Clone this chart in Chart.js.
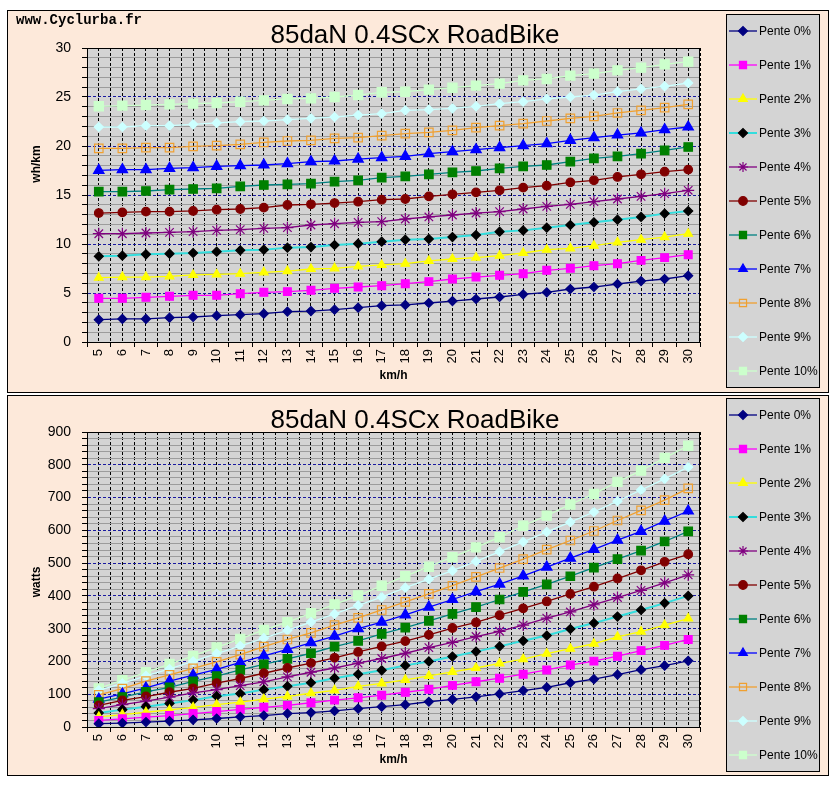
<!DOCTYPE html>
<html><head><meta charset="utf-8">
<script src="https://cdn.jsdelivr.net/npm/chart.js@4/dist/chart.umd.min.js"></script>
<style>
html,body{margin:0;padding:0;background:#fff;width:836px;height:786px;overflow:hidden;}
.panel{position:absolute;left:7px;width:820px;background:#fde9da;border:1px solid #000;}
#p1{top:10px;height:381px;}
#p2{top:395px;height:379px;}
canvas{position:absolute;left:0;top:0;}
</style></head><body>
<div class="panel" id="p1"><canvas id="c1" width="820" height="381" style="width:820px;height:381px"></canvas></div>
<div class="panel" id="p2"><canvas id="c2" width="820" height="379" style="width:820px;height:379px"></canvas></div>
<script>
const speeds = [5,6,7,8,9,10,11,12,13,14,15,16,17,18,19,20,21,22,23,24,25,26,27,28,29,30];
const seriesNames = ['Pente 0%','Pente 1%','Pente 2%','Pente 3%','Pente 4%','Pente 5%','Pente 6%','Pente 7%','Pente 8%','Pente 9%','Pente 10%'];
const chartTitle = '85daN 0.4SCx RoadBike';
const siteName = 'www.Cyclurba.fr';

// wh/km
const whkm_p0 = [2.28,2.35,2.35,2.48,2.55,2.69,2.79,2.89,3.10,3.16,3.30,3.50,3.71,3.78,3.98,4.18,4.39,4.59,4.86,5.07,5.41,5.61,5.92,6.22,6.43,6.77];
const whkm_p1 = [4.46,4.46,4.56,4.66,4.76,4.76,4.93,5.07,5.14,5.27,5.48,5.61,5.75,5.95,6.16,6.43,6.63,6.80,6.97,7.31,7.52,7.79,7.99,8.33,8.61,8.91];
const whkm_p2 = [6.56,6.63,6.63,6.70,6.84,6.90,6.97,7.11,7.24,7.45,7.52,7.72,7.86,7.99,8.27,8.47,8.61,8.81,9.08,9.42,9.56,9.83,10.17,10.44,10.71,11.05];
const whkm_p3 = [8.74,8.81,8.95,9.01,9.08,9.22,9.35,9.42,9.63,9.69,9.90,10.03,10.24,10.44,10.51,10.71,10.92,11.26,11.39,11.67,11.94,12.21,12.48,12.76,13.10,13.37];
const whkm_p4 = [11.05,11.05,11.12,11.19,11.26,11.39,11.46,11.60,11.67,11.94,12.07,12.21,12.28,12.55,12.76,12.96,13.16,13.30,13.57,13.84,14.05,14.32,14.59,14.86,15.14,15.48];
const whkm_p5 = [13.16,13.23,13.30,13.30,13.37,13.50,13.57,13.71,13.98,14.05,14.18,14.32,14.52,14.59,14.86,15.07,15.27,15.48,15.75,15.95,16.29,16.50,16.84,17.11,17.38,17.59];
const whkm_p6 = [15.34,15.34,15.41,15.54,15.61,15.68,15.88,16.02,16.09,16.16,16.36,16.50,16.77,16.90,17.11,17.31,17.45,17.72,17.93,18.06,18.40,18.74,18.95,19.22,19.56,19.90];
const whkm_p7 = [17.52,17.59,17.59,17.72,17.79,17.93,17.99,18.06,18.20,18.40,18.47,18.67,18.81,18.95,19.22,19.42,19.63,19.83,20.03,20.24,20.58,20.85,21.12,21.33,21.67,21.94];
const whkm_p8 = [19.76,19.76,19.83,19.83,19.97,20.03,20.17,20.37,20.51,20.58,20.78,20.85,21.05,21.26,21.39,21.60,21.87,22.07,22.28,22.55,22.82,23.03,23.37,23.64,23.91,24.25];
const whkm_p9 = [21.94,21.94,22.07,22.07,22.21,22.35,22.48,22.55,22.69,22.82,22.96,23.16,23.30,23.64,23.71,23.84,24.05,24.32,24.52,24.80,25.00,25.20,25.54,25.82,26.09,26.43];
const whkm_p10 = [24.05,24.12,24.18,24.25,24.32,24.39,24.52,24.66,24.80,24.86,25.00,25.20,25.48,25.54,25.75,25.95,26.16,26.36,26.70,26.84,27.18,27.38,27.72,28.00,28.33,28.61];

// watts
const watts_p0 = [10,12,15,18,22,26,31,35,41,44,49,56,62,68,77,84,92,101,111,121,135,146,160,175,187,202];
const watts_p1 = [20,25,30,35,41,47,54,60,66,74,82,89,97,106,115,127,138,149,161,174,189,201,216,233,249,267];
const watts_p2 = [31,38,45,52,60,68,76,85,93,103,112,124,133,144,156,168,180,194,207,224,239,254,275,291,311,331];
const watts_p3 = [43,53,62,72,82,94,102,114,124,135,149,161,173,188,200,215,230,246,263,279,299,317,337,357,378,400];
const watts_p4 = [56,68,79,91,104,114,126,138,153,167,180,195,209,225,242,258,276,292,311,332,351,373,395,417,440,464];
const watts_p5 = [66,81,93,106,118,134,148,164,180,195,211,229,246,262,281,302,319,341,362,383,406,428,453,478,504,527];
const watts_p6 = [76,91,107,121,139,155,174,191,208,225,245,263,284,303,324,345,366,389,412,435,460,486,512,538,566,597];
const watts_p7 = [85,101,119,140,158,176,197,217,237,257,277,300,320,342,366,389,413,436,461,488,515,542,570,597,628,659];
const watts_p8 = [98,117,140,159,179,199,221,245,267,287,311,333,357,382,406,431,458,485,512,541,569,598,630,661,692,728];
const watts_p9 = [112,133,156,177,200,224,247,271,295,320,345,371,396,425,451,477,505,535,565,595,625,656,689,723,757,793];
const watts_p10 = [118,143,167,192,217,243,269,296,320,347,374,401,431,460,489,518,548,579,614,645,679,711,748,782,821,858];

const whkmSeries = [whkm_p0,whkm_p1,whkm_p2,whkm_p3,whkm_p4,whkm_p5,whkm_p6,whkm_p7,whkm_p8,whkm_p9,whkm_p10];
const wattsSeries = [watts_p0,watts_p1,watts_p2,watts_p3,watts_p4,watts_p5,watts_p6,watts_p7,watts_p8,watts_p9,watts_p10];

const styles = [
  {line:'#000080', fill:'#000080', border:'#000080', point:'rectRot', r:4.5},
  {line:'#ff00ff', fill:'#ff00ff', border:'#ff00ff', point:'rect', r:5.5},
  {line:'#ffff00', fill:'#ffff00', border:'#ffff00', point:'triangle', r:5},
  {line:'#33dddd', fill:'#000000', border:'#000000', point:'rectRot', r:4.5, lw:2},
  {line:'#800080', fill:'rgba(0,0,0,0)', border:'#800080', point:'star', r:6},
  {line:'#800000', fill:'#800000', border:'#800000', point:'circle', r:4.3},
  {line:'#008080', fill:'#008000', border:'#008000', point:'rect', r:6},
  {line:'#0000ff', fill:'#0000ff', border:'#0000ff', point:'triangle', r:6},
  {line:'#f0a030', fill:'rgba(0,0,0,0)', border:'#f0a030', point:'rect', r:6},
  {line:'#ccffff', fill:'#ccffff', border:'#ccffff', point:'rectRot', r:4.5},
  {line:'#ccffcc', fill:'#ccffcc', border:'#ccffcc', point:'rect', r:6.5}
];

const FONT = "'Liberation Sans', Arial, sans-serif";

function makeDatasets(series){
  return series.map((arr,i)=>({
    label: seriesNames[i],
    data: speeds.map((s,j)=>({x:s, y:arr[j]})),
    borderColor: styles[i].line,
    backgroundColor: styles[i].fill,
    borderWidth: styles[i].lw || 1.3,
    pointStyle: styles[i].point,
    pointRadius: styles[i].r,
    pointBackgroundColor: styles[i].fill,
    pointBorderColor: styles[i].border,
    pointBorderWidth: 1.2,
    tension: 0,
    fill: false
  }));
}

const areaPlugin = {
  id:'area',
  beforeDraw(chart){
    const {ctx, chartArea:a} = chart;
    ctx.save();
    ctx.fillStyle = '#d4d4d4';
    ctx.fillRect(a.left, a.top, a.right-a.left, a.bottom-a.top);
    ctx.restore();
  },
  beforeDatasetsDraw(chart){
    const {ctx, chartArea:a} = chart;
    ctx.save();
    ctx.strokeStyle = '#000';
    ctx.lineWidth = 1;
    ctx.strokeRect(Math.round(a.left)+0.5, Math.round(a.top)+0.5, Math.round(a.right-a.left)-1, Math.round(a.bottom-a.top));
    ctx.restore();
  }
};

const textPlugin = {
  id:'texts',
  afterDraw(chart, args, opts){
    const ctx = chart.ctx;
    ctx.save();
    ctx.fillStyle = '#000';
    ctx.font = '26px ' + FONT;
    ctx.textAlign = 'center';
    ctx.textBaseline = 'middle';
    ctx.fillText(chartTitle, 407, opts.titleY);
    if (opts.site){
      ctx.font = 'bold 14px "Liberation Mono", "Courier New", monospace';
      ctx.textAlign = 'left';
      ctx.textBaseline = 'alphabetic';
      ctx.fillText(siteName, 8, 13);
    }
    // y axis title
    ctx.save();
    ctx.translate(29, opts.yTitleY);
    ctx.rotate(-Math.PI/2);
    ctx.font = 'bold 12px ' + FONT;
    ctx.textAlign = 'center';
    ctx.textBaseline = 'middle';
    ctx.fillText(opts.yTitle, 0, 0);
    ctx.restore();
    // legend
    const bx = 718, by = opts.legTop, bw = 93, bh = opts.legH;
    ctx.fillStyle = '#d4d4d4';
    ctx.fillRect(bx, by, bw, bh);
    ctx.strokeStyle = '#000';
    ctx.lineWidth = 1;
    ctx.strokeRect(bx+0.5, by+0.5, bw, bh);
    chart.data.datasets.forEach((ds,i)=>{
      const y = opts.legFirst + 34*i;
      ctx.strokeStyle = ds.borderColor;
      ctx.lineWidth = ds.borderWidth;
      ctx.beginPath(); ctx.moveTo(721, y); ctx.lineTo(749, y); ctx.stroke();
      ctx.fillStyle = ds.pointBackgroundColor;
      ctx.strokeStyle = ds.pointBorderColor;
      ctx.lineWidth = 1.2;
      Chart.helpers.drawPoint(ctx, {pointStyle: ds.pointStyle, radius: Math.min(ds.pointRadius,5), rotation:0, borderWidth:1.2}, 735, y);
      ctx.fillStyle = '#000';
      ctx.font = '12px ' + FONT;
      ctx.textAlign = 'left';
      ctx.textBaseline = 'middle';
      ctx.fillText(ds.label, 751, y+1);
    });
    ctx.restore();
  }
};

function makeChart(id, series, ymax, ystep, ymajor, xH, texts){
  return new Chart(document.getElementById(id), {
    type:'line',
    data:{datasets: makeDatasets(series)},
    plugins:[areaPlugin, textPlugin],
    options:{
      responsive:false, animation:false, events:[],
      layout:{padding:{top:texts.areaTop, right:128, left:0, bottom:0}},
      plugins:{legend:{display:false}, tooltip:{enabled:false}, title:{display:false}, texts: texts},
      scales:{
        x:{
          type:'linear', min:4.5, max:30.5,
          afterBuildTicks(s){ const t=[]; for(let v=4.5; v<=30.5001; v+=0.5) t.push({value:v}); s.ticks=t; },
          afterFit(s){ s.height = xH; },
          ticks:{autoSkip:false, maxRotation:90, minRotation:90, padding:2, color:'#000',
            font:{family:FONT, size:13},
            callback:(v)=> Number.isInteger(v) ? String(v) : ''},
          grid:{color:'#000', lineWidth:1, tickLength:5,
            tickColor:(c)=> (c.tick && Number.isInteger(c.tick.value)) ? 'rgba(0,0,0,0)' : '#000'},
          border:{display:true, color:'#000', width:1, dash:(c)=> c.tick ? [3,2] : []},
          title:{display:true, text:'km/h', color:'#000', font:{family:FONT, size:12, weight:'bold'}, padding:{top:0, bottom:texts.xTitlePad}}
        },
        y:{
          type:'linear', min:0, max:ymax,
          afterBuildTicks(s){ const t=[]; for(let v=0; v<=ymax; v+=ystep) t.push({value:v}); s.ticks=t; },
          afterFit(s){ s.width = 79; },
          ticks:{autoSkip:false, padding:11, color:'#000', font:{family:FONT, size:14},
            callback:(v)=> (v % ymajor === 0) ? String(v) : ''},
          grid:{lineWidth:1, tickLength:5, tickColor:'#000',
            color:(c)=> (c.tick && c.tick.value % ymajor === 0) ? '#1a1aa0' : '#9c9c9c'},
          border:{display:true, color:'#000', width:1,
            dash:(c)=> (c.tick && c.tick.value % ymajor === 0) ? [3,2] : []},
          title:{display:false}
        }
      }
    }
  });
}

makeChart('c1', whkmSeries, 30, 1, 5, 50,
  {areaTop:37, titleY:25, site:true, legTop:3, legH:373, legFirst:20, xTitlePad:9, yTitle:'wh/km', yTitleY:153});
makeChart('c2', wattsSeries, 900, 20, 100, 48,
  {areaTop:36, titleY:25, site:false, legTop:2, legH:373, legFirst:19, xTitlePad:8, yTitle:'watts', yTitleY:186});
</script>
</body></html>
